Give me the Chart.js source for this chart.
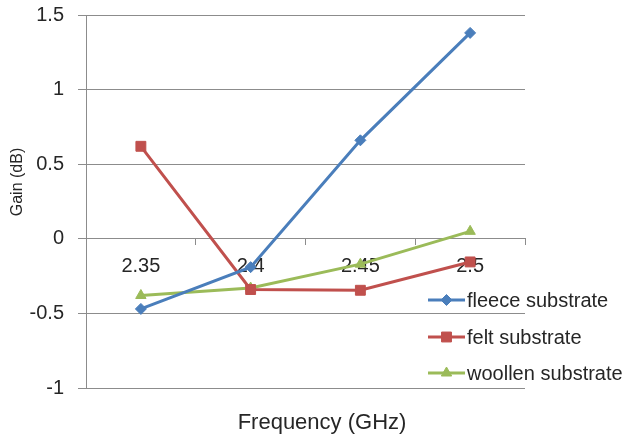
<!DOCTYPE html>
<html>
<head>
<meta charset="utf-8">
<script src="https://cdn.jsdelivr.net/npm/chart.js@4/dist/chart.umd.min.js"></script>
<style>
  html, body { margin: 0; padding: 0; background: #ffffff; }
  #wrap { width: 629px; height: 441px; }
</style>
</head>
<body>
<div id="wrap"><canvas id="c" width="629" height="441"></canvas></div>
<script>
// Frequency categories (GHz)
const frequencies = ['2.35', '2.4', '2.45', '2.5'];
// Gain (dB) measured for each substrate
const fleeceGain  = [-0.47, -0.19, 0.66, 1.38];
const feltGain    = [0.62, -0.34, -0.345, -0.155];
const woollenGain = [-0.38, -0.33, -0.17, 0.05];
// Value-axis labels, bottom to top
const gainTicks = ['-1', '-0.5', '0', '0.5', '1', '1.5'];
const seriesNames = ['fleece substrate', 'felt substrate', 'woollen substrate'];
const xTitle = 'Frequency (GHz)';
const yTitle = 'Gain (dB)';

const TEXT = '#262626';
const GRID = '#8c8c8c';
const FONT = '"Liberation Sans", Arial, sans-serif';

const BLUE = '#4a7ebb', RED = '#c0504d', GREEN = '#9bbb59';

// Axis titles and the legend block on the right
const overlay = {
  id: 'overlay',
  afterDraw(chart) {
    const ctx = chart.ctx;
    ctx.save();
    ctx.fillStyle = TEXT;
    ctx.textAlign = 'center';
    ctx.textBaseline = 'middle';
    ctx.font = '22px ' + FONT;
    ctx.fillText(xTitle, 322, 423);
    ctx.save();
    ctx.translate(18, 182);
    ctx.rotate(-Math.PI / 2);
    ctx.font = '16px ' + FONT;
    ctx.fillText(yTitle, 0, 0);
    ctx.restore();

    const rows = [300, 337, 373];
    chart.data.datasets.forEach((ds, i) => {
      const y = rows[i];
      ctx.strokeStyle = ds.borderColor;
      ctx.lineWidth = ds.borderWidth;
      ctx.beginPath();
      ctx.moveTo(428, y);
      ctx.lineTo(465, y);
      ctx.stroke();
      ctx.fillStyle = ds.pointBackgroundColor;
      ctx.strokeStyle = ds.pointBorderColor;
      ctx.lineWidth = 1;
      Chart.helpers.drawPoint(ctx, {
        pointStyle: ds.pointStyle, radius: ds.pointRadius, rotation: 0, borderWidth: 1
      }, 446.5, y);
      ctx.fillStyle = TEXT;
      ctx.textAlign = 'left';
      ctx.font = '20px ' + FONT;
      ctx.fillText(ds.label, 467, y + 1);
    });
    ctx.restore();
  }
};

function series(label, values, color, style, radius) {
  return {
    label: label,
    data: values,
    borderColor: color,
    backgroundColor: color,
    borderWidth: 3,
    pointStyle: style,
    pointRadius: radius,
    pointHoverRadius: radius,
    pointBackgroundColor: color,
    pointBorderColor: color,
    pointBorderWidth: 1,
    tension: 0
  };
}

new Chart(document.getElementById('c'), {
  type: 'line',
  data: {
    labels: frequencies,
    datasets: [
      series(seriesNames[0], fleeceGain, BLUE, 'rectRot', 5.5),
      series(seriesNames[1], feltGain, RED, 'rect', 7),
      series(seriesNames[2], woollenGain, GREEN, 'triangle', 6)
    ]
  },
  options: {
    responsive: false,
    animation: false,
    events: [],
    layout: { padding: { left: 0, top: 15, right: 104, bottom: 53 } },
    plugins: { legend: { display: false }, tooltip: { enabled: false }, title: { display: false } },
    scales: {
      x: {
        type: 'category',
        position: { y: 0 },
        offset: true,
        z: 1,
        afterFit(scale) {
          scale.height = 0;
          scale.paddingTop = 0; scale.paddingBottom = 0;
        },
        grid: {
          display: true, drawOnChartArea: false, drawTicks: true,
          tickLength: 6, offset: true, color: GRID, lineWidth: 1
        },
        border: { display: true, color: GRID, width: 1 },
        ticks: { color: TEXT, font: { family: FONT, size: 20 }, padding: 10, maxRotation: 0, autoSkip: false }
      },
      y: {
        min: -1,
        max: 1.5,
        afterFit(scale) {
          scale.width = 86;
          scale.paddingTop = 0; scale.paddingBottom = 0;
        },
        grid: { color: GRID, lineWidth: 1, tickLength: 8, drawTicks: true },
        border: { display: true, color: GRID, width: 1 },
        ticks: {
          stepSize: 0.5,
          color: TEXT,
          font: { family: FONT, size: 20 },
          padding: 14,
          callback: (v, i) => gainTicks[i]
        }
      }
    }
  },
  plugins: [overlay]
});
</script>
</body>
</html>
